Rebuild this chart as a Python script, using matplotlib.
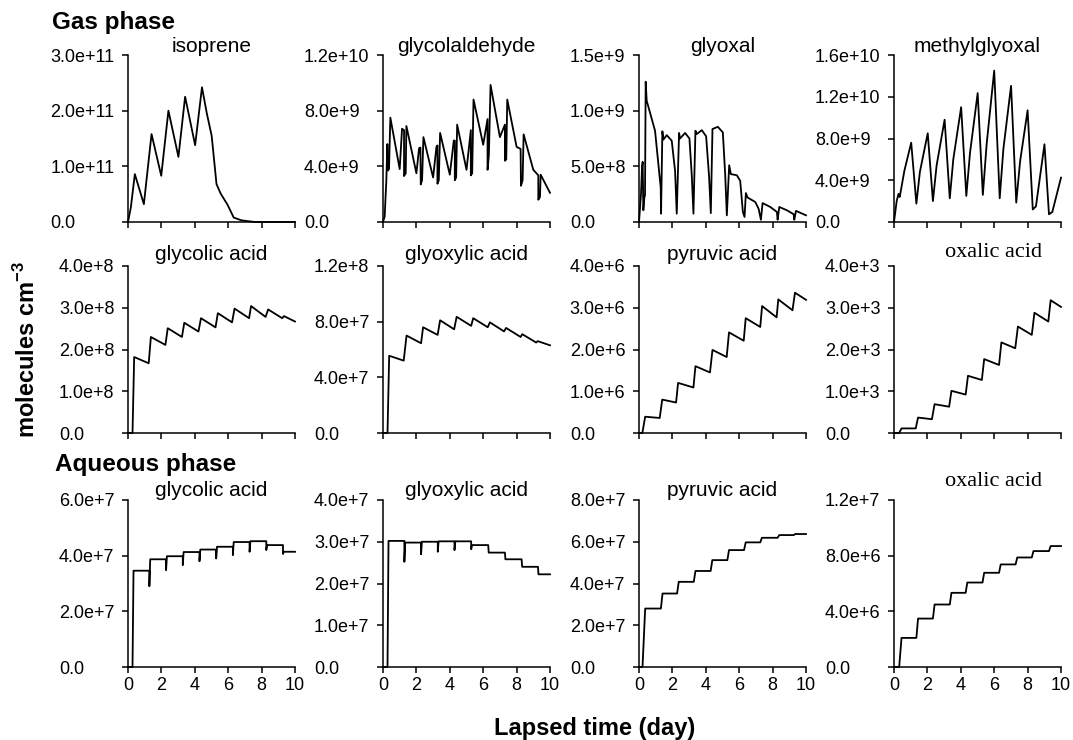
import matplotlib
matplotlib.use("Agg")
import matplotlib.pyplot as plt

# ---------------- data (day, molecules cm-3) ----------------
isoprene_t = [0, 0.17, 0.41, 0.95, 1.41, 1.99, 2.42, 3.02, 3.42, 4.02, 4.43, 4.72, 5.01, 5.3, 5.55, 5.96, 6.33, 6.79, 7.6, 10]
isoprene_v = [0, 0.26e11, 0.86e11, 0.32e11, 1.58e11, 0.83e11, 2.0e11, 1.17e11, 2.25e11, 1.38e11, 2.42e11, 1.95e11,
              1.55e11, 0.68e11, 0.51e11, 0.31e11, 0.08e11, 0.03e11, 0.0, 0.0]

glycolaldehyde_t = [0, 0.1, 0.2, 0.26, 0.3, 0.36, 0.44, 1.0, 1.14, 1.26, 1.26, 1.36, 1.4, 2.0, 2.16, 2.24, 2.26, 2.34,
                    2.42, 3.0, 3.2, 3.26, 3.26, 3.34, 3.42, 4.0, 4.24, 4.3, 4.3, 4.38, 4.44, 5.0, 5.26, 5.26, 5.34,
                    5.42, 6.0, 6.26, 6.26, 6.34, 6.44, 7.0, 7.3, 7.3, 7.38, 7.44, 8.0, 8.24, 8.26, 8.36, 8.42, 9.0,
                    9.3, 9.3, 9.4, 9.44, 10.0]
glycolaldehyde_v = [0, 0.4e9, 3.0e9, 5.6e9, 3.7e9, 3.8e9, 7.5e9, 3.8e9, 6.7e9, 6.6e9, 3.3e9, 3.5e9, 6.9e9, 3.5e9,
                    5.3e9, 5.35e9, 2.7e9, 3.0e9, 6.1e9, 3.2e9, 5.4e9, 5.5e9, 2.75e9, 3.0e9, 6.4e9, 3.4e9, 5.85e9,
                    5.85e9, 3.0e9, 3.2e9, 7.0e9, 3.75e9, 6.6e9, 3.35e9, 3.5e9, 8.8e9, 5.55e9, 7.4e9, 3.75e9,
                    4.8e9, 9.85e9, 6.1e9, 7.0e9, 4.4e9, 4.5e9, 8.8e9, 5.4e9, 5.25e9, 2.6e9, 3.0e9, 6.3e9, 3.75e9,
                    3.35e9, 1.6e9, 1.8e9, 3.4e9, 2.1e9]

glyoxal_t = [0, 0.12, 0.18, 0.22, 0.26, 0.32, 0.36, 0.4, 0.46, 0.96, 1.16, 1.3, 1.32, 1.4, 1.46, 1.66, 1.96, 2.16,
             2.26, 2.4, 2.46, 2.76, 3.02, 3.16, 3.26, 3.38, 3.46, 3.76, 4.02, 4.2, 4.3, 4.4, 4.72, 5.02, 5.16, 5.26,
             5.4, 5.5, 5.86, 6.06, 6.22, 6.32, 6.4, 6.5, 6.96, 7.16, 7.3, 7.4, 7.86, 8.26, 8.3, 8.4, 8.86, 9.26,
             9.3, 9.4, 10.0]
glyoxal_v = [0, 2.5e8, 4.9e8, 5.4e8, 1.05e8, 2.2e8, 2.4e8, 12.6e8, 10.9e8, 8.2e8, 5.2e8, 3.1e8, 0.75e8, 8.15e8,
             7.4e8, 7.8e8, 7.3e8, 4.6e8, 0.75e8, 8.0e8, 7.5e8, 8.0e8, 7.5e8, 4.2e8, 0.75e8, 8.2e8, 7.9e8, 8.25e8,
             7.7e8, 4.0e8, 0.8e8, 8.35e8, 8.55e8, 8.05e8, 4.3e8, 0.6e8, 5.1e8, 4.3e8, 4.2e8, 3.7e8, 0.9e8,
             0.45e8, 2.6e8, 2.2e8, 1.8e8, 1.2e8, 0.2e8, 1.7e8, 1.35e8, 0.9e8, 0.2e8, 1.35e8, 1.05e8, 0.7e8,
             0.2e8, 1.0e8, 0.6e8]

methylglyoxal_t = [0, 0.16, 0.27, 0.34, 0.41, 0.62, 1.03, 1.34, 1.55, 2.02, 2.33, 2.55, 3.03, 3.34, 3.55, 4.02, 4.33,
                   4.55, 5.01, 5.32, 5.55, 6.0, 6.33, 6.55, 7.01, 7.32, 7.55, 8.0, 8.31, 8.5, 9.01, 9.28, 9.48, 10.0]
methylglyoxal_v = [0, 2.0e9, 2.7e9, 2.4e9, 3.0e9, 4.9e9, 7.6e9, 1.76e9, 4.8e9, 8.5e9, 2.0e9, 5.4e9, 9.8e9, 2.27e9,
                   6.0e9, 11.0e9, 2.5e9, 6.6e9, 12.35e9, 2.6e9, 7.5e9, 14.5e9, 2.27e9, 7.0e9, 13.05e9, 1.86e9,
                   5.8e9, 10.7e9, 1.2e9, 1.5e9, 7.45e9, 0.74e9, 0.96e9, 4.25e9]

gas_glycolic_t = [0, 0.27, 0.37, 1.24, 1.37, 2.24, 2.38, 3.23, 3.37, 4.22, 4.37, 5.24, 5.38, 6.23, 6.38, 7.25, 7.37,
                  8.24, 8.39, 9.23, 9.34, 10.0]
gas_glycolic_v = [0, 0, 1.82e8, 1.67e8, 2.3e8, 2.11e8, 2.51e8, 2.3e8, 2.64e8, 2.43e8, 2.75e8, 2.53e8, 2.87e8,
                  2.65e8, 2.98e8, 2.75e8, 3.04e8, 2.78e8, 2.96e8, 2.75e8, 2.8e8, 2.67e8]

gas_glyoxylic_t = [0, 0.27, 0.37, 1.24, 1.41, 2.28, 2.4, 3.27, 3.42, 4.26, 4.41, 5.28, 5.4, 6.27, 6.4, 7.25, 7.37,
                   8.24, 8.34, 9.17, 9.27, 10.0]
gas_glyoxylic_v = [0, 0, 5.55e7, 5.2e7, 7.0e7, 6.45e7, 7.6e7, 7.05e7, 8.1e7, 7.45e7, 8.35e7, 7.7e7, 8.25e7,
                   7.6e7, 7.95e7, 7.3e7, 7.55e7, 6.9e7, 7.1e7, 6.5e7, 6.6e7, 6.3e7]

gas_pyruvic_t = [0, 0.2, 0.37, 1.24, 1.39, 2.22, 2.34, 3.26, 3.38, 4.25, 4.4, 5.25, 5.39, 6.27, 6.39, 7.26, 7.37,
                 8.24, 8.34, 9.19, 9.34, 10.0]
gas_pyruvic_v = [0, 0, 0.39e6, 0.36e6, 0.8e6, 0.73e6, 1.2e6, 1.09e6, 1.6e6, 1.45e6, 1.99e6, 1.82e6, 2.41e6,
                 2.21e6, 2.75e6, 2.54e6, 3.04e6, 2.77e6, 3.2e6, 2.94e6, 3.36e6, 3.19e6]

gas_oxalic_t = [0, 0.31, 0.45, 1.3, 1.44, 2.27, 2.43, 3.3, 3.44, 4.29, 4.43, 5.26, 5.4, 6.29, 6.43, 7.26, 7.42,
                8.25, 8.41, 9.24, 9.38, 10.0]
gas_oxalic_v = [0, 0, 0.11e3, 0.11e3, 0.37e3, 0.33e3, 0.69e3, 0.63e3, 1.01e3, 0.92e3, 1.37e3, 1.27e3, 1.77e3,
                1.63e3, 2.17e3, 2.03e3, 2.55e3, 2.35e3, 2.88e3, 2.67e3, 3.18e3, 3.02e3]

aq_glycolic_t = [0, 0.27, 0.33, 1.28, 1.28, 1.33, 2.28, 2.28, 2.33, 3.28, 3.28, 3.33, 4.28, 4.28, 4.33, 5.28, 5.28,
                 5.33, 6.28, 6.28, 6.33, 7.28, 7.28, 7.33, 8.28, 8.28, 8.33, 9.28, 9.28, 9.33, 10.0]
aq_glycolic_v = [0, 0, 3.46e7, 3.46e7, 2.9e7, 3.87e7, 3.87e7, 3.48e7, 3.98e7, 3.98e7, 3.66e7, 4.13e7, 4.13e7,
                 3.8e7, 4.22e7, 4.22e7, 3.9e7, 4.32e7, 4.32e7, 4.02e7, 4.49e7, 4.49e7, 4.14e7, 4.52e7, 4.52e7,
                 4.2e7, 4.38e7, 4.38e7, 4.06e7, 4.14e7, 4.14e7]

aq_glyoxylic_t = [0, 0.27, 0.33, 1.28, 1.28, 1.33, 2.28, 2.28, 2.33, 3.28, 3.28, 3.33, 4.28, 4.28, 4.33, 5.28, 5.28,
                  5.33, 6.3, 6.33, 7.3, 7.33, 8.3, 8.33, 9.28, 9.31, 10.0]
aq_glyoxylic_v = [0, 0, 3.02e7, 3.02e7, 2.52e7, 2.98e7, 2.98e7, 2.7e7, 3.0e7, 3.0e7, 2.76e7, 3.01e7, 3.01e7,
                  2.8e7, 3.01e7, 3.01e7, 2.82e7, 2.92e7, 2.92e7, 2.74e7, 2.74e7, 2.58e7, 2.58e7, 2.4e7, 2.4e7,
                  2.22e7, 2.22e7]

aq_pyruvic_t = [0, 0.21, 0.37, 1.31, 1.41, 2.28, 2.38, 3.28, 3.38, 4.29, 4.39, 5.29, 5.39, 6.29, 6.39, 7.26, 7.36,
                8.3, 8.4, 9.27, 9.35, 10.0]
aq_pyruvic_v = [0, 0, 2.8e7, 2.8e7, 3.52e7, 3.52e7, 4.08e7, 4.08e7, 4.6e7, 4.6e7, 5.12e7, 5.12e7, 5.6e7, 5.6e7,
                5.97e7, 5.97e7, 6.19e7, 6.19e7, 6.32e7, 6.32e7, 6.37e7, 6.37e7]

aq_oxalic_t = [0, 0.31, 0.45, 1.34, 1.44, 2.33, 2.43, 3.34, 3.44, 4.29, 4.39, 5.3, 5.4, 6.29, 6.39, 7.28, 7.38,
               8.25, 8.35, 9.28, 9.38, 10.0]
aq_oxalic_v = [0, 0, 2.09e6, 2.09e6, 3.48e6, 3.48e6, 4.49e6, 4.49e6, 5.33e6, 5.33e6, 6.07e6, 6.07e6, 6.77e6,
               6.77e6, 7.37e6, 7.37e6, 7.87e6, 7.87e6, 8.33e6, 8.33e6, 8.69e6, 8.69e6]

titles = [["isoprene", "glycolaldehyde", "glyoxal", "methylglyoxal"],
          ["glycolic acid", "glyoxylic acid", "pyruvic acid", "oxalic acid"],
          ["glycolic acid", "glyoxylic acid", "pyruvic acid", "oxalic acid"]]
series = [[(isoprene_t, isoprene_v), (glycolaldehyde_t, glycolaldehyde_v), (glyoxal_t, glyoxal_v),
           (methylglyoxal_t, methylglyoxal_v)],
          [(gas_glycolic_t, gas_glycolic_v), (gas_glyoxylic_t, gas_glyoxylic_v), (gas_pyruvic_t, gas_pyruvic_v),
           (gas_oxalic_t, gas_oxalic_v)],
          [(aq_glycolic_t, aq_glycolic_v), (aq_glyoxylic_t, aq_glyoxylic_v), (aq_pyruvic_t, aq_pyruvic_v),
           (aq_oxalic_t, aq_oxalic_v)]]
yticks = [[[0, 1e11, 2e11, 3e11], [0, 4e9, 8e9, 1.2e10], [0, 5e8, 1e9, 1.5e9], [0, 4e9, 8e9, 1.2e10, 1.6e10]],
          [[0, 1e8, 2e8, 3e8, 4e8], [0, 4e7, 8e7, 1.2e8], [0, 1e6, 2e6, 3e6, 4e6], [0, 1e3, 2e3, 3e3, 4e3]],
          [[0, 2e7, 4e7, 6e7], [0, 1e7, 2e7, 3e7, 4e7], [0, 2e7, 4e7, 6e7, 8e7], [0, 4e6, 8e6, 1.2e7]]]
xticks = [0, 2, 4, 6, 8, 10]


def fmt(v):
    if v == 0:
        return "0.0"
    m, e = f"{v:.1e}".split("e")
    return f"{m}e+{int(e)}"


plt.rcParams['font.family'] = ['Liberation Sans', 'DejaVu Sans']
plt.rcParams['mathtext.fontset'] = 'custom'
plt.rcParams['mathtext.rm'] = 'Liberation Sans'
plt.rcParams['mathtext.bf'] = 'Liberation Sans:bold'
W, H = 1073, 740
fig = plt.figure(figsize=(W / 100, H / 100), dpi=100)

col_left = [128, 383, 639, 894]
row_top = [55, 266, 500]
aw, ah = 167, 167
title_y = [[46, 46, 46, 46], [254, 254, 254, 252], [491, 491, 491, 481]]
TICKLEN = 4
axes = []

for r in range(3):
    for c in range(4):
        L, T = col_left[c], row_top[r]
        ax = fig.add_axes([L / W, 1 - (T + ah) / H, aw / W, ah / H])
        t, v = series[r][c]
        ax.plot(t, v, color='black', lw=1.3, clip_on=False)
        yt = yticks[r][c]
        ax.set_xlim(0, 10)
        ax.set_ylim(0, yt[-1])
        ax.set_yticks(yt)
        ax.set_yticklabels([fmt(x) for x in yt], fontsize=13, ha='left')
        ax.set_xticks(xticks)
        if r == 2:
            ax.set_xticklabels([str(x) for x in xticks], fontsize=13)
        else:
            ax.set_xticklabels([])
        for s in ['top', 'right']:
            ax.spines[s].set_visible(False)
        for s in ['left', 'bottom']:
            ax.spines[s].set_linewidth(1.1)
        ax.tick_params(direction='out', length=TICKLEN, width=1.1, pad=3)
        axes.append(ax)
        name = titles[r][c]
        if name == "oxalic acid":
            fig.text((L + aw / 2 + 16) / W, 1 - title_y[r][c] / H, name, ha='center', va='center',
                     fontsize=16, family=['Liberation Serif', 'DejaVu Serif'])
        else:
            fig.text((L + aw / 2) / W, 1 - title_y[r][c] / H, name, ha='center', va='center', fontsize=15)

fig.text(52 / W, 1 - 23 / H, "Gas phase", ha='left', va='center', fontsize=17.5, fontweight='bold')
fig.text(55 / W, 1 - 465 / H, "Aqueous phase", ha='left', va='center', fontsize=17.5, fontweight='bold')
fig.text(27 / W, 1 - 350 / H, r"molecules cm$^{\mathbf{-3}}$", ha='center', va='center', rotation=90,
         fontsize=17, fontweight='bold')
fig.text(595 / W, 1 - 728 / H, "Lapsed time (day)", ha='center', va='center', fontsize=17, fontweight='bold')

# left-align y tick labels: pad = widest label + gap
fig.canvas.draw()
renderer = fig.canvas.get_renderer()
for ax in axes:
    wmax = max(l.get_window_extent(renderer).width for l in ax.get_yticklabels())
    ax.tick_params(axis='y', pad=(wmax + 8) * 72 / 100)

fig.savefig("out.png", dpi=100)
